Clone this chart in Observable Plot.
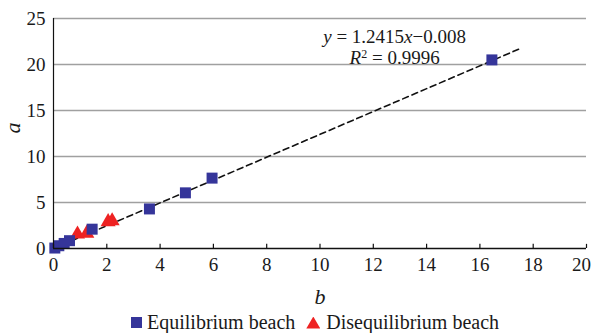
<!DOCTYPE html>
<html><head><meta charset="utf-8">
<script src="https://cdn.jsdelivr.net/npm/d3@7"></script>
<script src="https://cdn.jsdelivr.net/npm/@observablehq/plot@0.6"></script>
<style>
body{margin:0;background:#fff;font-family:"Liberation Serif","Times New Roman",Times,"DejaVu Serif",serif;}
#chart svg{display:block;}
#chart svg, #chart svg text{font-family:"Liberation Serif","Times New Roman",Times,"DejaVu Serif",serif !important;}
#legend{display:flex;align-items:center;height:21px;margin-left:131px;font-size:20px;color:#1a1a1a;line-height:21px;}
#legend .sq{width:11px;height:11px;background:#35359a;display:inline-block;margin-right:5px;}
#legend .tri{width:14px;height:12px;background:#ee2222;display:inline-block;margin:0 6px 0 11px;clip-path:polygon(50% 0,100% 100%,0 100%);}
</style></head><body>
<div id="chart"></div>
<div id="legend"><span class="sq"></span><span>Equilibrium beach</span><span class="tri"></span><span>Disequilibrium beach</span></div>
<script>
// Equilibrium beach (squares)
const eqB = [0.05, 0.2, 0.4, 0.6, 1.45, 3.6, 4.95, 5.95, 16.45];
const eqA = [0.05, 0.3, 0.55, 0.85, 2.1, 4.3, 6.05, 7.65, 20.5];
// Disequilibrium beach (triangles)
const diseqB = [0.9, 1.25, 2.05, 2.2];
const diseqA = [1.55, 1.65, 2.9, 3.0];
// Fit line
const fitSlope = 1.2415, fitIntercept = -0.008;
const fitB = [0, 17.45];
// Ticks
const xTicks = [0, 2, 4, 6, 8, 10, 12, 14, 16, 18, 20];
const yTicks = [0, 5, 10, 15, 20, 25];
const gridTicks = [5, 10, 15, 20, 25];

const eqData = eqB.map((b, i) => ({b, a: eqA[i]}));
const diseqData = diseqB.map((b, i) => ({b, a: diseqA[i]}));
const fitData = fitB.map(b => ({b, a: fitSlope * b + fitIntercept}));
const serif = '"Liberation Serif","Times New Roman",Times,"DejaVu Serif",serif';

const plot = Plot.plot({
  width: 593, height: 312,
  marginLeft: 53, marginRight: 7, marginTop: 18, marginBottom: 64,
  style: {fontFamily: serif, fontSize: "19px", color: "#1a1a1a", background: "#fff"},
  x: {domain: [0, 20]},
  y: {domain: [0, 25]},
  marks: [
    Plot.gridY(gridTicks, {stroke: "#a0a0a0", strokeOpacity: 1, strokeWidth: 1.5}),
    Plot.line(fitData, {x: "b", y: "a", stroke: "#111", strokeWidth: 1.6, strokeDasharray: "6,4"}),
    Plot.dot(diseqData, {x: "b", y: "a", symbol: "triangle", r: 5.6, fill: "#ee2222", stroke: "none"}),
    Plot.dot(eqData, {x: "b", y: "a", symbol: "square", r: 6.2, fill: "#35359a", stroke: "none"}),
    Plot.ruleX([0], {stroke: "#111", strokeWidth: 1.2}),
    Plot.ruleY([0], {stroke: "#111", strokeWidth: 1.5}),
    Plot.ruleX(xTicks, {y1: 0, y2: 0.45, stroke: "#111", strokeWidth: 1.2}),
    Plot.axisX({ticks: xTicks.slice(0, -1), tickSize: 0, tickPadding: 9, label: null, fontSize: 19, fontFamily: serif}),
    Plot.axisX({ticks: xTicks.slice(-1), tickSize: 0, tickPadding: 9, label: null, fontSize: 19, fontFamily: serif, dx: -5}),
    Plot.axisY({ticks: yTicks, tickSize: 0, tickPadding: 8, label: null, fontSize: 19, fontFamily: serif}),
    Plot.text(["b"], {frameAnchor: "bottom", lineAnchor: "bottom", dy: 55, fontSize: 22, fontStyle: "italic", fontFamily: serif}),
    Plot.text(["a"], {frameAnchor: "left", rotate: -90, dx: -41, fontSize: 22, fontStyle: "italic", fontFamily: serif}),
    Plot.text(["eq1"], {x: 12.8, y: 23.05, text: d => "y = 1.2415x\u22120.008", fontSize: 19, fontFamily: serif, className: "eq1"}),
    Plot.text(["eq2"], {x: 12.8, y: 20.7, text: d => "R\u00b2 = 0.9996", fontSize: 19, fontFamily: serif, className: "eq2"})
  ]
});
document.getElementById("chart").appendChild(plot);

// Rich formatting of the equation text (italic variables, superscript)
const svg = d3.select(plot);
svg.selectAll("g.eq1 text").each(function() {
  const t = d3.select(this); t.text("");
  t.append("tspan").attr("font-style", "italic").text("y");
  t.append("tspan").text(" = 1.2415");
  t.append("tspan").attr("font-style", "italic").text("x");
  t.append("tspan").text("\u22120.008");
});
svg.selectAll("g.eq2 text").each(function() {
  const t = d3.select(this); t.text("");
  t.append("tspan").attr("font-style", "italic").text("R");
  t.append("tspan").attr("font-size", "12px").attr("dy", "-0.55em").text("2");
  t.append("tspan").attr("dy", "0.35em").text(" = 0.9996");
});
</script>
</body></html>
